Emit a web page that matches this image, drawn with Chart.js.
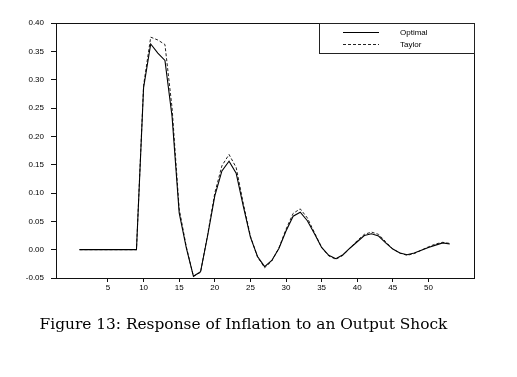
<!DOCTYPE html>
<html>
<head>
<meta charset="utf-8">
<script src="https://cdn.jsdelivr.net/npm/chart.js@4/dist/chart.umd.min.js"></script>
<style>
	body { margin: 0; background: #fff; }
	#wrap { position: relative; width: 517px; height: 377px; }
	#chart { position: absolute; left: 0; top: 0; }
	#caption {
		position: absolute; left: 0; width: 487px; top: 315px;
		text-align: center; font-family: "DejaVu Serif", serif; font-size: 15.4px; color: #000;
	}
</style>
</head>
<body>
<div id="wrap">
	<canvas id="chart" width="517" height="377"></canvas>
	<div id="caption">Figure 13: Response of Inflation to an Output Shock</div>
</div>
<script>
// periods after the shock
var periods = [1, 2, 3, 4, 5, 6, 7, 8, 9, 10, 11, 12, 13, 14, 15, 16, 17, 18, 19, 20,
	21, 22, 23, 24, 25, 26, 27, 28, 29, 30, 31, 32, 33, 34, 35, 36, 37, 38, 39, 40,
	41, 42, 43, 44, 45, 46, 47, 48, 49, 50, 51, 52, 53];

var optimal = [0, 0, 0, 0, 0, 0, 0, 0, 0, 0.286,
	0.363, 0.347, 0.334, 0.235, 0.065, 0.003, -0.047, -0.039, 0.025, 0.095,
	0.139, 0.156, 0.135, 0.077, 0.022, -0.012, -0.030, -0.019, 0.002, 0.033,
	0.059, 0.066, 0.051, 0.028, 0.004, -0.010, -0.016, -0.009, 0.003, 0.014,
	0.025, 0.028, 0.024, 0.012, 0.001, -0.006, -0.009, -0.006, -0.001, 0.004,
	0.008, 0.012, 0.010];

var taylor = [0, 0, 0, 0, 0, 0, 0, 0, 0, 0.290,
	0.375, 0.370, 0.362, 0.250, 0.072, 0.005, -0.047, -0.040, 0.027, 0.100,
	0.148, 0.168, 0.145, 0.082, 0.024, -0.013, -0.032, -0.020, 0.003, 0.036,
	0.064, 0.072, 0.056, 0.030, 0.004, -0.011, -0.017, -0.010, 0.003, 0.016,
	0.027, 0.031, 0.027, 0.014, 0.001, -0.006, -0.010, -0.007, -0.001, 0.005,
	0.010, 0.013, 0.011];

var xTicks = [5, 10, 15, 20, 25, 30, 35, 40, 45, 50];
var yTicks = [-0.05, 0, 0.05, 0.10, 0.15, 0.20, 0.25, 0.30, 0.35, 0.40];

var seriesNames = ['Optimal', 'Taylor'];

function toPoints(values) {
	return periods.map(function (p, i) { return { x: p, y: values[i] }; });
}

// box round the plot plus the little legend in the top right corner
var framePlugin = {
	id: 'frame',
	afterDraw: function (chart) {
		var a = chart.chartArea;
		var c = chart.ctx;
		c.save();
		c.strokeStyle = '#111';
		c.lineWidth = 1;
		c.strokeRect(Math.round(a.left) + 0.5, Math.round(a.top) + 0.5,
			Math.round(a.right - a.left), Math.round(a.bottom - a.top));

		// legend box
		var lx = Math.round(a.right) - 155, ly = Math.round(a.top);
		c.strokeStyle = '#222';
		c.strokeRect(lx + 0.5, ly + 0.5, Math.round(a.right) - lx, 30);

		c.strokeStyle = '#000';
		c.beginPath();
		c.moveTo(lx + 24, ly + 9.5);
		c.lineTo(lx + 60, ly + 9.5);
		c.stroke();
		c.strokeStyle = '#222';
		c.setLineDash([3, 2]);
		c.beginPath();
		c.moveTo(lx + 24, ly + 21.5);
		c.lineTo(lx + 60, ly + 21.5);
		c.stroke();
		c.setLineDash([]);

		c.fillStyle = '#000';
		c.font = '8px "Liberation Sans", Arial, sans-serif';
		c.textBaseline = 'middle';
		c.fillText(seriesNames[0], lx + 81, ly + 10);
		c.fillText(seriesNames[1], lx + 81, ly + 22);
		c.restore();
	}
};

var tickFont = { family: '"Liberation Sans", Arial, sans-serif', size: 8 };

new Chart(document.getElementById('chart'), {
	type: 'line',
	data: {
		datasets: [{
			label: seriesNames[0],
			data: toPoints(optimal),
			borderColor: '#000',
			borderWidth: 1.1,
			pointRadius: 0,
			tension: 0
		}, {
			label: seriesNames[1],
			data: toPoints(taylor),
			borderColor: '#222',
			borderWidth: 1,
			borderDash: [3, 2],
			pointRadius: 0,
			tension: 0
		}]
	},
	options: {
		responsive: false,
		animation: false,
		layout: { padding: { top: 23, right: 43, bottom: 79, left: 0 } },
		plugins: {
			legend: { display: false },
			tooltip: { enabled: false }
		},
		scales: {
			x: {
				type: 'linear',
				min: -2.3,
				max: 56.4,
				afterBuildTicks: function (s) { s.ticks = xTicks.map(function (v) { return { value: v }; }); },
				afterFit: function (s) { s.height = 20; },
				border: { display: false },
				grid: { drawOnChartArea: false, drawTicks: true, tickLength: 4, color: '#111' },
				ticks: { font: tickFont, color: '#000', padding: 1, maxRotation: 0 }
			},
			y: {
				min: -0.05,
				max: 0.40,
				afterBuildTicks: function (s) { s.ticks = yTicks.map(function (v) { return { value: v }; }); },
				afterFit: function (s) { s.width = 56; },
				border: { display: false },
				grid: { drawOnChartArea: false, drawTicks: true, tickLength: 5, color: '#111' },
				ticks: {
					font: tickFont,
					color: '#000',
					padding: 7,
					callback: function (v) { return Number(v).toFixed(2); }
				}
			}
		}
	},
	plugins: [framePlugin]
});
</script>
</body>
</html>
